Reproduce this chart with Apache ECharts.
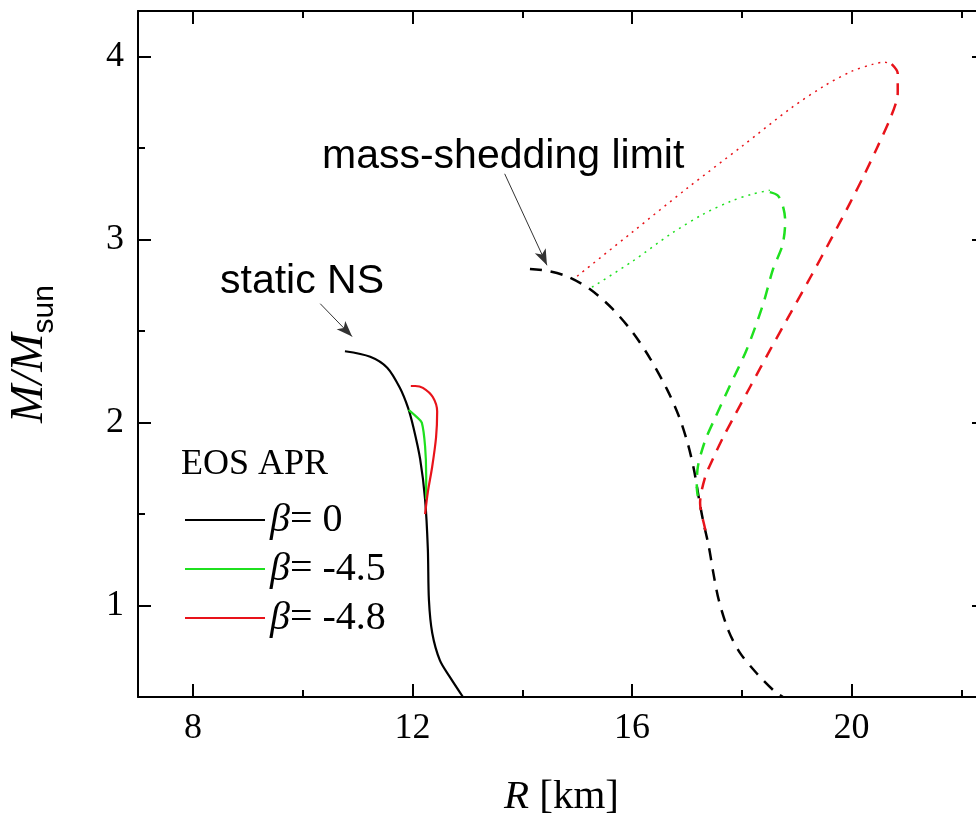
<!DOCTYPE html>
<html>
<head>
<meta charset="utf-8">
<script src="https://cdn.jsdelivr.net/npm/echarts@6.0.0/dist/echarts.min.js"></script>
<style>
  html, body { margin: 0; padding: 0; background: #fff; }
  #chart { width: 976px; height: 816px; }
</style>
</head>
<body>
<div id="chart"></div>
<script>
// axis ticks
const xMajor = [8, 12, 16, 20]
const xMinor = [10, 14, 18, 22]
const yMajor = [1, 2, 3, 4]
const yMinor = [1.5, 2.5, 3.5]

// static NS (solid)
const staticR0 = [10.77, 11.23, 11.54, 11.77, 11.92, 12.02, 12.14, 12.23, 12.28, 12.30, 12.36, 12.50, 12.68, 12.92]
const staticM0 = [2.39, 2.36, 2.30, 2.19, 2.08, 1.97, 1.80, 1.58, 1.31, 1.03, 0.85, 0.70, 0.61, 0.50]
const staticR45 = [11.93, 12.08, 12.17, 12.23, 12.25, 12.25]
const staticM45 = [2.07, 2.03, 2.00, 1.87, 1.71, 1.58]
const staticR48 = [11.97, 12.05, 12.19, 12.37, 12.45, 12.43, 12.36, 12.28, 12.23]
const staticM48 = [2.20, 2.20, 2.19, 2.14, 2.06, 1.92, 1.76, 1.62, 1.50]

// mass-shedding limit (dashed)
const shedR0 = [14.14, 14.45, 14.81, 15.23, 15.65, 16.02, 16.33, 16.64, 16.86, 17.02, 17.13, 17.21, 17.29, 17.40, 17.48, 17.58, 17.76, 17.97, 18.27, 18.60, 18.75]
const shedM0 = [2.84, 2.83, 2.80, 2.73, 2.62, 2.49, 2.35, 2.18, 2.03, 1.88, 1.74, 1.60, 1.47, 1.32, 1.18, 1.03, 0.86, 0.74, 0.63, 0.53, 0.50]
const shedR45 = [18.51, 18.66, 18.76, 18.79, 18.74, 18.57, 18.38, 18.09, 17.78, 17.52, 17.33, 17.20, 17.18, 17.22]
const shedM45 = [3.26, 3.24, 3.17, 3.10, 2.97, 2.84, 2.64, 2.40, 2.20, 2.03, 1.90, 1.76, 1.65, 1.56]
const shedR48 = [20.73, 20.84, 20.84, 20.83, 20.70, 20.46, 20.24, 19.97, 19.62, 19.26, 18.89, 18.52, 18.16, 17.89, 17.66, 17.47, 17.33, 17.24, 17.33, 17.36]
const shedM48 = [3.96, 3.91, 3.81, 3.77, 3.66, 3.50, 3.36, 3.20, 3.00, 2.80, 2.60, 2.40, 2.20, 2.05, 1.92, 1.80, 1.70, 1.56, 1.42, 1.38]

// maximum mass sequences (dotted)
const maxR45 = [15.27, 16.00, 16.70, 17.30, 17.80, 18.20, 18.51]
const maxM45 = [2.74, 2.88, 3.03, 3.14, 3.21, 3.25, 3.27]
const maxR48 = [15.00, 16.00, 17.00, 18.00, 18.90, 19.50, 20.00, 20.40, 20.60, 20.73]
const maxM48 = [2.80, 3.04, 3.28, 3.51, 3.72, 3.84, 3.92, 3.96, 3.97, 3.96]

const legendNames = ['β= 0', 'β= -4.5', 'β= -4.8']

const BLACK = '#000000'
const GREEN = '#1fe01f'
const RED = '#e8131a'
const SERIF = 'Liberation Serif'
const SANS = 'Liberation Sans'

const Y_MIN = 0.5
const Y_MAX = 4.25
const GRID_TOP = 11
const GRID_BOTTOM = 119
// tick lengths in M units for the top frame (13 px / 7 px of plot height)
const PX_PER_M = (816 - GRID_TOP - GRID_BOTTOM) / (Y_MAX - Y_MIN)
const TOP_MAJOR = 13 / PX_PER_M
const TOP_MINOR = 7 / PX_PER_M

function pairs(xs, ys) {
  return xs.map((x, i) => [x, ys[i]])
}

function line(name, xs, ys, color, type, width) {
  return {
    name: name,
    type: 'line',
    data: pairs(xs, ys),
    showSymbol: false,
    smooth: 0.3,
    itemStyle: { color: color },
    lineStyle: { color: color, type: type, width: width },
    z: 3
  }
}

function xAxisOf(position, ticks, len, withLine, withLabel) {
  return {
    type: 'value',
    position: position,
    min: 7,
    max: 22.43,
    axisLine: { show: withLine, lineStyle: { color: BLACK, width: 2 } },
    axisTick: { show: true, inside: true, length: len, customValues: ticks, lineStyle: { color: BLACK, width: 2 } },
    axisLabel: withLabel
      ? { show: true, customValues: ticks, margin: 14, color: BLACK, fontSize: 36, fontFamily: SERIF }
      : { show: false },
    splitLine: { show: false }
  }
}

function yAxisOf(position, ticks, len, withLine, withLabel) {
  return {
    type: 'value',
    position: position,
    min: Y_MIN,
    max: Y_MAX,
    axisLine: { show: withLine, lineStyle: { color: BLACK, width: 2 } },
    axisTick: { show: true, inside: true, length: len, customValues: ticks, lineStyle: { color: BLACK, width: 2 } },
    axisLabel: withLabel
      ? { show: true, customValues: ticks, margin: 14, color: BLACK, fontSize: 36, fontFamily: SERIF }
      : { show: false },
    splitLine: { show: false }
  }
}

function topTicks(values, len) {
  return values.map(v => [
    { coord: [v, Y_MAX], symbol: 'none' },
    { coord: [v, Y_MAX - len], symbol: 'none' }
  ])
}

const chart = echarts.init(document.getElementById('chart'), null, { renderer: 'canvas' })

const xMain = xAxisOf('bottom', xMajor, 13, true, true)
xMain.name = '{i|R}{r| [km]}'
xMain.nameLocation = 'middle'
xMain.nameGap = 80
xMain.nameTextStyle = {
  color: BLACK,
  rich: {
    i: { fontFamily: SERIF, fontStyle: 'italic', fontSize: 41, color: BLACK },
    r: { fontFamily: SERIF, fontSize: 41, color: BLACK }
  }
}

const yMain = yAxisOf('left', yMajor, 13, true, true)
yMain.name = '{i|M/M}{s|sun}'
yMain.nameLocation = 'middle'
yMain.nameGap = 78
yMain.nameTextStyle = {
  color: BLACK,
  rich: {
    i: { fontFamily: SERIF, fontStyle: 'italic', fontSize: 46, lineHeight: 60, verticalAlign: 'middle', color: BLACK },
    s: { fontFamily: SANS, fontSize: 30, lineHeight: 30, verticalAlign: 'bottom', color: BLACK }
  }
}

const option = {
  animation: false,
  backgroundColor: '#ffffff',
  grid: { left: 138, top: GRID_TOP, right: -9, bottom: GRID_BOTTOM, outerBoundsMode: 'none' },
  xAxis: [
    xMain,
    xAxisOf('bottom', xMinor, 7, false, false),
    xAxisOf('top', xMajor, 13, true, false)
  ],
  yAxis: [
    yMain,
    yAxisOf('left', yMinor, 7, false, false),
    yAxisOf('right', yMajor, 13, true, false),
    yAxisOf('right', yMinor, 7, false, false)
  ],
  legend: {
    data: legendNames,
    orient: 'vertical',
    left: 180,
    top: 495,
    icon: 'rect',
    itemWidth: 80,
    itemHeight: 2,
    itemGap: 9,
    selectedMode: false,
    formatter: name => '{g|β}{t|' + name.slice(1) + '}',
    textStyle: {
      color: BLACK,
      fontFamily: SERIF,
      fontSize: 40,
      rich: {
        g: { fontFamily: SERIF, fontStyle: 'italic', fontSize: 40, lineHeight: 40, color: BLACK },
        t: { fontFamily: SERIF, fontSize: 40, lineHeight: 40, color: BLACK }
      }
    }
  },
  graphic: [
    { type: 'text', left: 181, top: 447, style: { text: 'EOS APR', font: '36px "Liberation Serif"', fill: BLACK } },
    { type: 'text', x: 220, y: 282, style: { text: 'static NS', font: '41px "Liberation Sans"', fill: BLACK, verticalAlign: 'middle' } },
    { type: 'text', x: 322, y: 157, style: { text: 'mass-shedding limit', font: '41px "Liberation Sans"', fill: BLACK, verticalAlign: 'middle' } }
  ],
  series: [
    line(legendNames[0], staticR0, staticM0, BLACK, 'solid', 2.2),
    line(legendNames[1], staticR45, staticM45, GREEN, 'solid', 2.2),
    line(legendNames[2], staticR48, staticM48, RED, 'solid', 2.2),
    line('shed β= 0', shedR0, shedM0, BLACK, [12, 9], 2.5),
    line('shed β= -4.5', shedR45, shedM45, GREEN, [12, 9], 2.5),
    line('shed β= -4.8', shedR48, shedM48, RED, [12, 9], 2.5),
    line('max β= -4.5', maxR45, maxM45, GREEN, [2, 5], 1.5),
    line('max β= -4.8', maxR48, maxM48, RED, [2, 5], 1.5),
    {
      name: 'arrows',
      type: 'line',
      data: [],
      markLine: {
        silent: true,
        animation: false,
        label: { show: false },
        lineStyle: { color: '#333', width: 1, type: 'solid' },
        symbolSize: [9, 16],
        data: [
          [{ coord: [10.32, 2.65], symbol: 'none' }, { coord: [10.90, 2.47], symbol: 'arrow' }],
          [{ coord: [13.68, 3.36], symbol: 'none' }, { coord: [14.45, 2.86], symbol: 'arrow' }]
        ]
      }
    },
    {
      // ticks on the top frame, placed through the axis scales
      name: 'top ticks',
      type: 'line',
      data: [],
      clip: false,
      markLine: {
        silent: true,
        animation: false,
        symbol: 'none',
        label: { show: false },
        lineStyle: { color: BLACK, width: 2, type: 'solid' },
        data: topTicks(xMajor, TOP_MAJOR).concat(topTicks(xMinor, TOP_MINOR))
      }
    }
  ]
}

chart.setOption(option)
</script>
</body>
</html>
